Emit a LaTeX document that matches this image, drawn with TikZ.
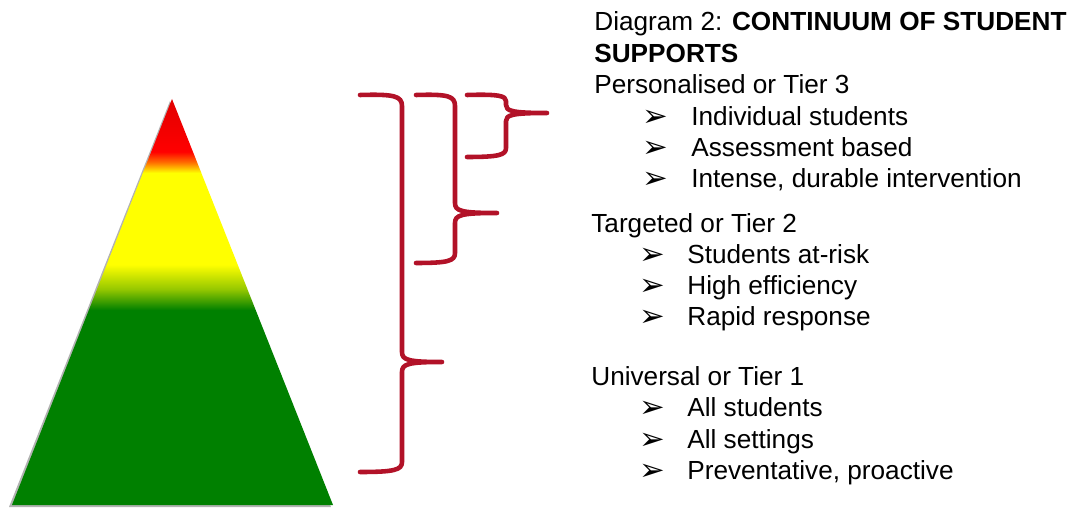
\documentclass[tikz,border=0pt]{standalone}
\usepackage{fontspec}
\setmainfont{Liberation Sans}
\newfontfamily\dingfont{DejaVu Sans}

\definecolor{tiergreen}{RGB}{0,128,0}
\definecolor{tierolive}{RGB}{150,200,0}
\definecolor{tieryellow}{RGB}{255,255,0}
\definecolor{tierorange}{RGB}{255,110,0}
\definecolor{tierred}{RGB}{255,0,0}
\definecolor{tierdark}{RGB}{225,0,0}
\definecolor{bracered}{RGB}{178,18,40}

% colour bands of the pyramid (path box = 25bp..75bp)
\pgfdeclareverticalshading{tiershade}{100bp}{color(0bp)=(tiergreen); color(49bp)=(tiergreen); color(51.6bp)=(tierolive); color(54.6bp)=(tieryellow); color(65.9bp)=(tieryellow); color(67.2bp)=(tierorange); color(68.5bp)=(tierred); color(75bp)=(tierdark); color(100bp)=(tierdark)}

\begin{document}
\begin{tikzpicture}[x=0.02cm, y=-0.02cm, font=\fontsize{14.9}{17.8}\selectfont,
		textline/.style={anchor=base west, inner sep=0pt},
		pointer/.style={anchor=base west, inner sep=0pt, text height=9pt, text depth=0pt, font=\dingfont\fontsize{17.5}{19}\selectfont},
		tierbrace/.style={draw=bracered, line width=2.6pt, line cap=round, line join=round}]
		% page size, same as the reference
		\useasboundingbox (0,0) rectangle (1074,509);
		
		% pyramid: soft shadow first, then the shaded triangle
		\fill[black, opacity=0.3] (170,101) -- (9,507) -- (331,507) -- cycle;
		\shade[shading=tiershade] (172,99) -- (12,505) -- (333,505) -- cycle;
		
		% big brace (tier 1, whole pyramid)
		\draw[tierbrace] (360,95) .. controls (394,94) and (402,96) .. (402,106) -- (402,352)
		.. controls (402,360) and (408,362) .. (442,362)
		.. controls (408,362) and (402,364) .. (402,372) -- (402,462)
		.. controls (402,470) and (394,472) .. (360,472);
		
		% middle brace (tier 2)
		\draw[tierbrace] (416,95) .. controls (448,94) and (455,96) .. (455,106) -- (455,203)
		.. controls (455,211) and (461,213) .. (497,213)
		.. controls (461,213) and (455,215) .. (455,223) -- (455,253)
		.. controls (455,261) and (448,263) .. (416,263);
		
		% small brace (tier 3)
		\draw[tierbrace] (467,95) .. controls (499,94) and (506,96) .. (506,101) -- (506,105)
		.. controls (506,111) and (512,113) .. (547,113)
		.. controls (512,113) and (506,115) .. (506,121) -- (506,148)
		.. controls (506,155) and (499,157) .. (467,157);
		
		% heading
		\node[textline] (title) at (594,31) {Diagram 2: \textbf{CONTINUUM OF STUDENT}};
		\node[textline] (title2) at (594,63) {\textbf{SUPPORTS}};
		
		% tier 3
		\node[textline] (tierc) at (594,94) {Personalised or Tier 3};
		\node[pointer] (pc1) at (642,127) {➢};
		\node[textline] (tc1) at (691,126) {Individual students};
		\node[pointer] (pc2) at (642,158) {➢};
		\node[textline] (tc2) at (691,157) {Assessment based};
		\node[pointer] (pc3) at (642,189) {➢};
		\node[textline] (tc3) at (691,188) {Intense, durable intervention};
		
		% tier 2
		\node[textline] (tierb) at (591,233) {Targeted or Tier 2};
		\node[pointer] (pb1) at (639,265) {➢};
		\node[textline] (tb1) at (687,264) {Students at-risk};
		\node[pointer] (pb2) at (639,296) {➢};
		\node[textline] (tb2) at (687,295) {High efficiency};
		\node[pointer] (pb3) at (639,327) {➢};
		\node[textline] (tb3) at (687,326) {Rapid response};
		
		% tier 1
		\node[textline] (tiera) at (591,386) {Universal or Tier 1};
		\node[pointer] (pa1) at (639,418) {➢};
		\node[textline] (ta1) at (687,417) {All students};
		\node[pointer] (pa2) at (639,449) {➢};
		\node[textline] (ta2) at (687,448) {All settings};
		\node[pointer] (pa3) at (639,480) {➢};
		\node[textline] (ta3) at (687,479) {Preventative, proactive};
	\end{tikzpicture}
\end{document}
